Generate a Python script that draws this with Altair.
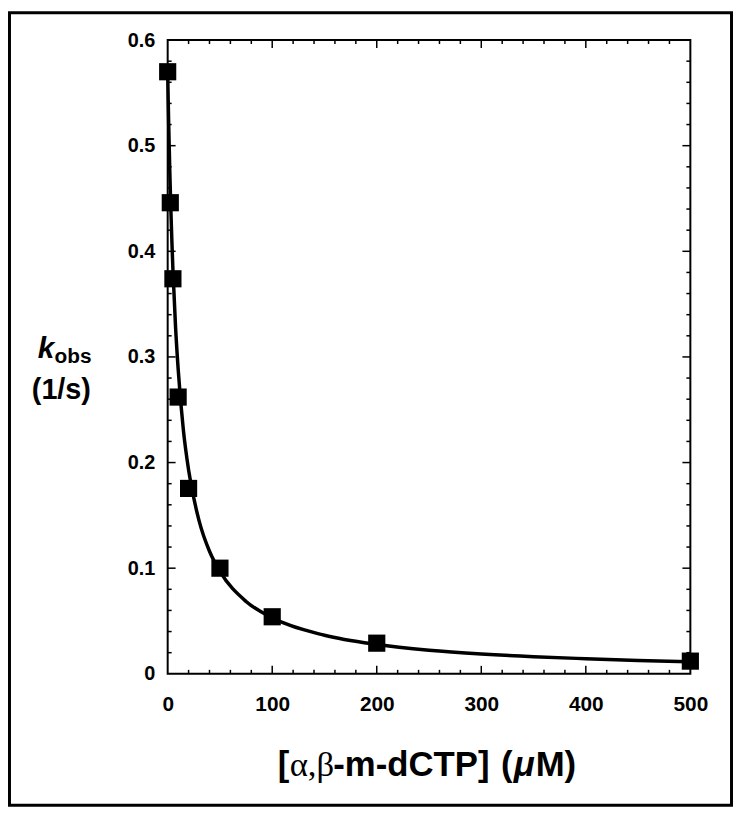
import altair as alt
import pandas as pd

# measured data points
conc = [0, 2.5, 5, 10, 20, 50, 100, 200, 500]
kobs = [0.570, 0.446, 0.374, 0.262, 0.1755, 0.100, 0.054, 0.029, 0.012]

# fitted curve
fit_x = [0, 0.5, 1, 2, 3, 4, 5, 7.5, 10, 15, 20, 30, 40, 50, 75, 100,
         150, 200, 250, 300, 350, 400, 450, 500]
fit_y = [0.570, 0.543, 0.519, 0.477, 0.441, 0.410, 0.383, 0.329, 0.289,
         0.231, 0.193, 0.145, 0.116, 0.097, 0.0685, 0.0530, 0.0365, 0.0278,
         0.0224, 0.0188, 0.0162, 0.0143, 0.0127, 0.0115]

x_ticks = [0, 100, 200, 300, 400, 500]
y_ticks = [0, 0.1, 0.2, 0.3, 0.4, 0.5, 0.6]
x_major = [100, 200, 300, 400]
x_minor = [20, 40, 60, 80, 120, 140, 160, 180, 220, 240, 260, 280,
           320, 340, 360, 380, 420, 440, 460, 480]
y_major = [0.1, 0.2, 0.3, 0.4, 0.5]
y_minor = [0.02, 0.04, 0.06, 0.08, 0.12, 0.14, 0.16, 0.18, 0.22, 0.24,
           0.26, 0.28, 0.32, 0.34, 0.36, 0.38, 0.42, 0.44, 0.46, 0.48,
           0.52, 0.54, 0.56, 0.58]

W, H = 527, 639
FONT = "Liberation Sans"

xs = alt.Scale(domain=[0, 500], nice=False, zero=False)
ys = alt.Scale(domain=[0, 0.6], nice=False, zero=False)

xa = alt.Axis(values=x_ticks, title=None, grid=False, domain=False, ticks=False,
              tickSize=0, labelPadding=20, labelFont=FONT, labelFontSize=21,
              labelFontWeight="bold", labelColor="black", labelFlush=False,
              labelOverlap=False)
ya = alt.Axis(values=y_ticks, title=None, grid=False, domain=False, ticks=False,
              tickSize=0, labelPadding=13, labelFont=FONT, labelFontSize=20,
              labelFontWeight="bold", labelColor="black", labelFlush=False,
              labelOverlap=False,
              labelExpr="datum.value == 0 ? '0' : format(datum.value, '.1f')")

pts = pd.DataFrame({"x": conc, "y": kobs})
fit = pd.DataFrame({"x": fit_x, "y": fit_y})
one = pd.DataFrame({"a": [0]})

curve = alt.Chart(fit).mark_line(color="black", strokeWidth=3.5,
                                 interpolate="monotone").encode(
    x=alt.X("x:Q", scale=xs, axis=xa),
    y=alt.Y("y:Q", scale=ys, axis=ya),
)

points = alt.Chart(pts).mark_point(shape="square", filled=True, size=300,
                                   color="black", opacity=1).encode(
    x=alt.X("x:Q", scale=xs, axis=xa),
    y=alt.Y("y:Q", scale=ys, axis=ya),
)


def xticks(vals, length):
    df = pd.DataFrame({"x": vals})
    bot = alt.Chart(df).mark_rule(color="black", strokeWidth=1.5).encode(
        x=alt.X("x:Q", scale=xs, axis=xa),
        y=alt.value(H), y2=alt.value(H - length))
    top = alt.Chart(df).mark_rule(color="black", strokeWidth=1.5).encode(
        x=alt.X("x:Q", scale=xs, axis=xa),
        y=alt.value(0), y2=alt.value(length))
    return [bot, top]


def yticks(vals, length):
    df = pd.DataFrame({"y": vals})
    left = alt.Chart(df).mark_rule(color="black", strokeWidth=1.5).encode(
        y=alt.Y("y:Q", scale=ys, axis=ya),
        x=alt.value(0), x2=alt.value(length))
    right = alt.Chart(df).mark_rule(color="black", strokeWidth=1.5).encode(
        y=alt.Y("y:Q", scale=ys, axis=ya),
        x=alt.value(W), x2=alt.value(W - length))
    return [left, right]


ticks = xticks(x_major, 8) + xticks(x_minor, 4) + yticks(y_major, 8) + yticks(y_minor, 4)


def txt(s, x, y, size, weight="bold", style="normal", font=FONT, align="left"):
    return alt.Chart(one).mark_text(
        text=s, font=font, fontSize=size, fontWeight=weight, fontStyle=style,
        align=align, baseline="alphabetic", color="black"
    ).encode(x=alt.value(x), y=alt.value(y))


titles = [
    txt("k", -131, 321, 30, style="italic"),
    txt("obs", -114, 326, 21),
    txt("(1/s)", -137, 362, 29),
    txt("[", 111, 742, 35),
    txt("α,β", 123, 742, 35, weight="normal", font="Liberation Serif"),
    txt("-m-dCTP]", 167, 742, 35),
    txt("(", 336, 742, 35),
    txt("μ", 349, 742, 35, style="italic"),
    txt("M)", 371, 742, 35),
]

border = alt.Chart(one).mark_rect(fillOpacity=0, stroke="black", strokeWidth=3).encode(
    x=alt.value(-159.5), x2=alt.value(568.5),
    y=alt.value(-27.5), y2=alt.value(771.5))

chart = alt.layer(curve, points, *ticks, *titles, border).properties(
    width=W, height=H,
    autosize=alt.AutoSizeParams(type="none"),
    padding={"left": 161, "top": 29, "right": 43, "bottom": 134},
).configure(background="white").configure_view(stroke="black", strokeWidth=2)

chart.save("out.html", embed_options={"renderer": "svg", "actions": False})
